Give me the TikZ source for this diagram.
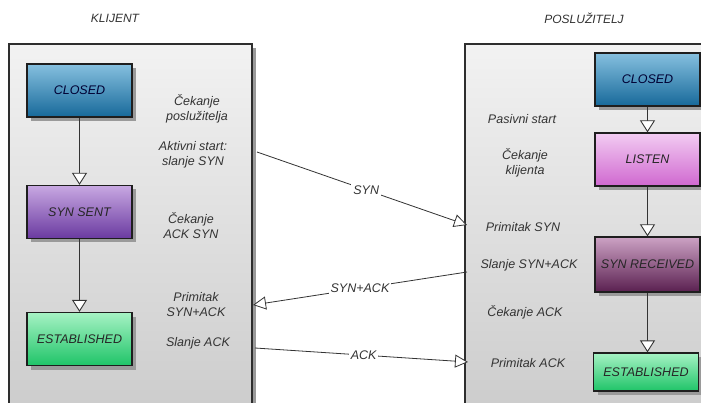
\documentclass[tikz,border=0pt]{standalone}
\usepackage{fontspec}
\setmainfont{Liberation Sans}
\usetikzlibrary{arrows.meta,shadows}

\definecolor{panelTop}{HTML}{F2F2F2}
\definecolor{panelBot}{HTML}{CDCDCD}
\definecolor{panelLine}{HTML}{2E2E2E}
\definecolor{shadowGray}{HTML}{9A9A9A}
\definecolor{boxLine}{HTML}{1E1E1E}
\definecolor{txtGray}{HTML}{333333}
\definecolor{blueTop}{HTML}{86C0DF}
\definecolor{blueBot}{HTML}{17699A}
\definecolor{violetTop}{HTML}{C8A8E2}
\definecolor{violetBot}{HTML}{6A3AA0}
\definecolor{greenTop}{HTML}{A6F2C4}
\definecolor{greenBot}{HTML}{1FC468}
\definecolor{pinkTop}{HTML}{F2CCF2}
\definecolor{pinkBot}{HTML}{D068D0}
\definecolor{plumTop}{HTML}{CCA2C4}
\definecolor{plumBot}{HTML}{5A2050}

\tikzset{
  panel/.style={draw=panelLine, line width=1.6pt, top color=panelTop, bottom color=panelBot},
  stbox/.style={draw=boxLine, line width=1.3pt, minimum width=105pt, minimum height=53pt,
    inner sep=0pt, font=\fontsize{12.5}{15}\selectfont\itshape, text=black!85,
    drop shadow={shadow xshift=4pt, shadow yshift=-4pt, fill=shadowGray, opacity=1}},
  lbl/.style={font=\fontsize{12.5}{15}\selectfont\itshape, text=txtGray, align=center, inner sep=0pt},
  ttl/.style={font=\fontsize{12}{14}\selectfont\itshape, text=txtGray, inner sep=0pt},
  vflow/.style={draw=txtGray, line width=0.9pt, -{Triangle[width=15pt, length=12pt, fill=white]}},
  msg/.style={draw=txtGray, line width=0.8pt, -{Triangle[width=13pt, length=13pt, fill=white]}},
  msglbl/.style={fill=white, font=\fontsize{12.5}{15}\selectfont\itshape, text=txtGray, inner sep=2pt}
}

\begin{document}
\begin{tikzpicture}[x=1pt, y=-1pt]
  \useasboundingbox (0,0) rectangle (701,403);
  \clip (0,0) rectangle (701,403);
  \fill[white] (0,0) rectangle (701,403);

  % titles
  \node[ttl] (tk) at (115,18) {KLIJENT};
  \node[ttl] (tp) at (584,18) {POSLUŽITELJ};

  % panels with their shadows
  \fill[shadowGray] (13,48) rectangle (256,408);
  \path[panel] (9,44) rectangle (252,404);
  \fill[shadowGray] (469,48) rectangle (716,408);
  \path[panel] (465,44) rectangle (712,404);

  % client states
  \node[stbox, top color=blueTop, bottom color=blueBot, text=blue!20!black] (kc) at (79.5,90.5) {CLOSED};
  \node[stbox, top color=violetTop, bottom color=violetBot] (ks) at (79.5,212) {SYN SENT};
  \node[stbox, top color=greenTop, bottom color=greenBot] (ke) at (79.5,339) {ESTABLISHED};

  \draw[vflow] (kc.south) -- (ks.north);
  \draw[vflow] (ks.south) -- (ke.north);

  % server states
  \node[stbox, top color=blueTop, bottom color=blueBot, text=blue!20!black] (sc) at (647.5,79.5) {CLOSED};
  \node[stbox, top color=pinkTop, bottom color=pinkBot] (sl) at (647.5,159.5) {LISTEN};
  \node[stbox, top color=plumTop, bottom color=plumBot, minimum height=55pt] (sr) at (647.5,264.5) {SYN RECEIVED};
  \node[stbox, top color=greenTop, bottom color=greenBot, minimum height=38pt] (se) at (646,372) {ESTABLISHED};

  \draw[vflow] (sc.south) -- (sl.north);
  \draw[vflow] (sl.south) -- (sr.north);
  \draw[vflow] (sr.south) -- (se.north -| sr.south);

  % client notes
  \node[lbl] (k1) at (197,109) {Čekanje\\poslužitelja};
  \node[lbl] (k2) at (193,155) {Aktivni start:\\slanje SYN};
  \node[lbl] (k3) at (191,226) {Čekanje\\ACK SYN};
  \node[lbl] (k4) at (196,305) {Primitak\\SYN+ACK};
  \node[lbl] (k5) at (198,343) {Slanje ACK};

  % server notes
  \node[lbl] (s1) at (522,119) {Pasivni start};
  \node[lbl] (s2) at (525,162.5) {Čekanje\\klijenta};
  \node[lbl] (s3) at (523,227) {Primitak SYN};
  \node[lbl] (s4) at (529,265) {Slanje SYN+ACK};
  \node[lbl] (s5) at (525,312) {Čekanje ACK};
  \node[lbl] (s6) at (528,363) {Primitak ACK};

  % exchanged segments
  \coordinate (synA) at (257,152);
  \coordinate (synB) at (467,225);
  \coordinate (saA) at (467,272);
  \coordinate (saB) at (253,305);
  \coordinate (ackA) at (255,348);
  \coordinate (ackB) at (468,362);

  \draw[msg] (synA) -- node[msglbl, pos=0.52] (m1) {SYN} (synB);
  \draw[msg] (saA) -- node[msglbl, pos=0.5] (m2) {SYN+ACK} (saB);
  \draw[msg] (ackA) -- node[msglbl, pos=0.51] (m3) {ACK} (ackB);
\end{tikzpicture}
\end{document}
